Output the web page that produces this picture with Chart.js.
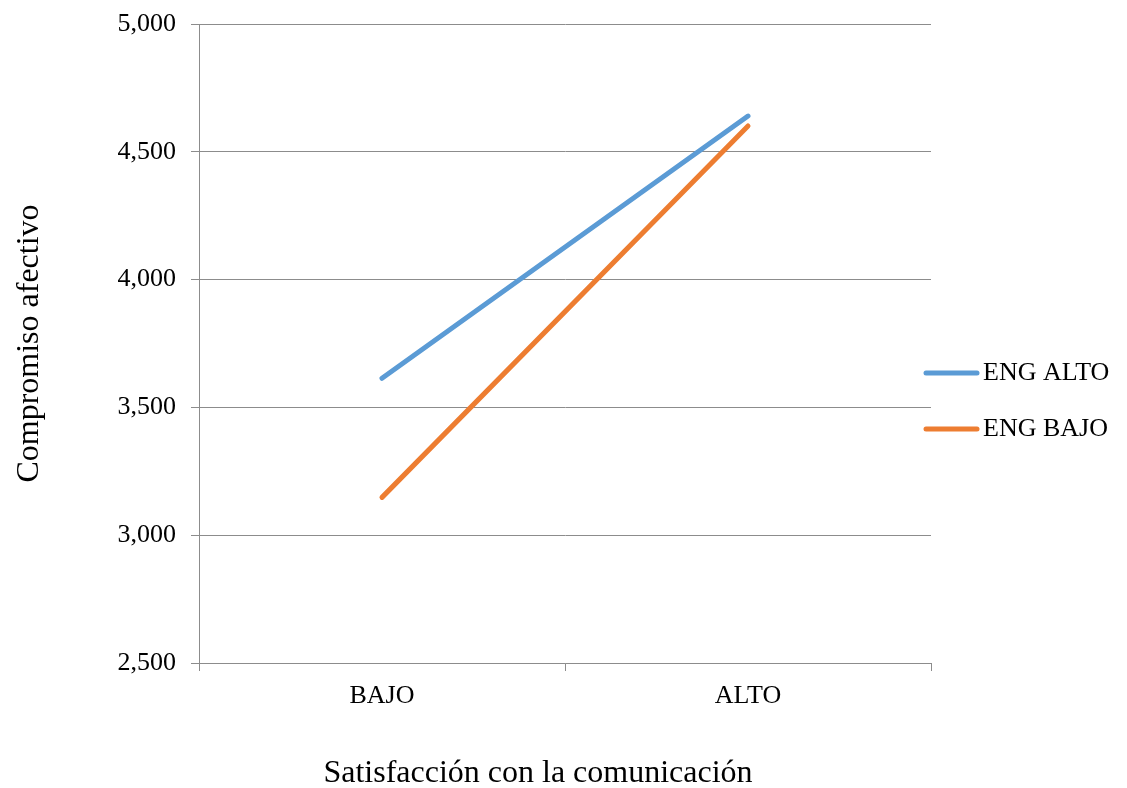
<!DOCTYPE html>
<html>
<head>
<meta charset="utf-8">
<script src="https://cdn.jsdelivr.net/npm/chart.js@4/dist/chart.umd.min.js"></script>
<style>
  html, body { margin: 0; padding: 0; background: #ffffff; }
  #wrap { width: 1127px; height: 788px; position: relative; }
</style>
</head>
<body>
<div id="wrap"><canvas id="c"></canvas></div>
<script>
const categories = ["BAJO", "ALTO"];
const seriesNames = ["ENG ALTO", "ENG BAJO"];
const engAlto = [3.614, 4.640];
const engBajo = [3.148, 4.601];
const yTickValues = [2.5, 3.0, 3.5, 4.0, 4.5, 5.0];
const yTickLabels = ["2,500", "3,000", "3,500", "4,000", "4,500", "5,000"];
const xTitle = "Satisfacción con la comunicación";
const yTitle = "Compromiso afectivo";

const FONT = "'Liberation Serif', 'Times New Roman', serif";
const GRID = "#8c8c8c";

const customLegend = {
  id: "customLegend",
  afterDraw(chart) {
    const ctx = chart.ctx;
    const a = chart.chartArea;
    ctx.save();
    chart.data.datasets.forEach((ds, i) => {
      const y = 373 + i * 56;
      ctx.strokeStyle = ds.borderColor;
      ctx.lineWidth = 5;
      ctx.lineCap = "round";
      ctx.beginPath();
      ctx.moveTo(a.right - 5, y);
      ctx.lineTo(a.right + 46, y);
      ctx.stroke();
      ctx.fillStyle = "#000000";
      ctx.font = "26px " + FONT;
      ctx.textAlign = "left";
      ctx.textBaseline = "middle";
      ctx.fillText(ds.label, a.right + 52, y);
    });
    ctx.font = "32px " + FONT;
    ctx.textAlign = "center";
    ctx.textBaseline = "middle";
    ctx.fillStyle = "#000000";
    ctx.fillText(xTitle, 538, 774);
    ctx.restore();
  }
};

new Chart(document.getElementById("c"), {
  type: "line",
  data: {
    labels: categories,
    datasets: [
      { label: seriesNames[0], data: engAlto, borderColor: "#5B9BD5", backgroundColor: "#5B9BD5",
        borderWidth: 5, borderCapStyle: "round", pointRadius: 0, pointHoverRadius: 0, tension: 0 },
      { label: seriesNames[1], data: engBajo, borderColor: "#ED7D31", backgroundColor: "#ED7D31",
        borderWidth: 5, borderCapStyle: "round", pointRadius: 0, pointHoverRadius: 0, tension: 0 }
    ]
  },
  options: {
    responsive: true,
    maintainAspectRatio: false,
    animation: false,
    layout: { padding: { left: 0, right: 196, top: 24, bottom: 0 } },
    plugins: { legend: { display: false }, tooltip: { enabled: false } },
    scales: {
      x: {
        type: "category",
        offset: true,
        grid: { offset: true, drawOnChartArea: false, drawTicks: true, tickLength: 8, color: GRID, lineWidth: 1 },
        border: { display: true, color: GRID, width: 1 },
        ticks: { color: "#000000", font: { family: FONT, size: 26 }, padding: 10, maxRotation: 0 },
        afterFit(scale) { scale.height = 125; scale.paddingLeft = 0; scale.paddingRight = 0; }
      },
      y: {
        min: 2.5,
        max: 5.0,
        afterBuildTicks(scale) { scale.ticks = yTickValues.map(v => ({ value: v })); },
        grid: { color: GRID, lineWidth: 1, tickLength: 8, drawTicks: true },
        border: { display: true, color: GRID, width: 1 },
        ticks: {
          color: "#000000",
          font: { family: FONT, size: 26 },
          padding: 15,
          callback(value) {
            const idx = yTickValues.findIndex(v => Math.abs(v - value) < 1e-6);
            return idx >= 0 ? yTickLabels[idx] : "";
          }
        },
        title: { display: true, text: yTitle, color: "#000000", font: { family: FONT, size: 32 }, padding: { top: 10, bottom: 0 } },
        afterFit(scale) { scale.width = 199; scale.paddingTop = 0; scale.paddingBottom = 0; }
      }
    }
  },
  plugins: [customLegend]
});
</script>
</body>
</html>
